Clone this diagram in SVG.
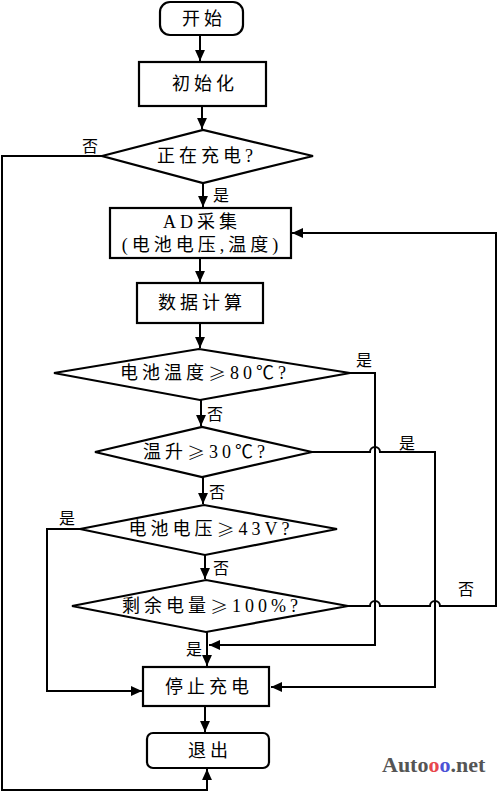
<svg xmlns="http://www.w3.org/2000/svg" width="500" height="792" viewBox="0 0 500 792">
<defs>
<marker id="ah" viewBox="0 0 10 10" refX="10" refY="5" markerWidth="11" markerHeight="11" markerUnits="userSpaceOnUse" orient="auto">
<path d="M0,0.5 L10,5 L0,9.5 Z" fill="#000"/>
</marker>
<style>
.n{fill:#fff;stroke:#000;stroke-width:2.2}
.c{fill:none;stroke:#000;stroke-width:2}
.t{font-family:"Liberation Serif","Noto Sans CJK SC",serif;font-size:18px;letter-spacing:4px;fill:#000;text-anchor:middle;dominant-baseline:central}
.g{font-family:"Noto Sans CJK SC",sans-serif;font-weight:300}
.l{font-family:"Noto Sans CJK SC",serif;font-size:16px;fill:#000;text-anchor:middle;dominant-baseline:central}
</style>
</defs>
<g id="connectors">
<path class="c" d="M200,35 V61" marker-end="url(#ah)"/>
<path class="c" d="M202,106 V129" marker-end="url(#ah)"/>
<path class="c" d="M203,183 V207" marker-end="url(#ah)"/>
<path class="c" d="M200,258 V282" marker-end="url(#ah)"/>
<path class="c" d="M200,323 V348" marker-end="url(#ah)"/>
<path class="c" d="M201,400 V426" marker-end="url(#ah)"/>
<path class="c" d="M203,477 V504" marker-end="url(#ah)"/>
<path class="c" d="M205,555 V579" marker-end="url(#ah)"/>
<path class="c" d="M207,632 V666" marker-end="url(#ah)"/>
<path class="c" d="M205,706 V732" marker-end="url(#ah)"/>
<path class="c" d="M102,156 H2 V790 H207 V769" marker-end="url(#ah)"/>
<path class="c" d="M350,373 H375 V645 H209" marker-end="url(#ah)"/>
<path class="c" d="M312,452 H370 A5,5 0 0 1 380,452 H435 V687 H271" marker-end="url(#ah)"/>
<path class="c" d="M80,529 H47 V691 H142" marker-end="url(#ah)"/>
<path class="c" d="M348,606 H370 A5,5 0 0 1 380,606 H430 A5,5 0 0 1 440,606 H496 V233 H292" marker-end="url(#ah)"/>
</g>
<g id="start"><rect class="n" x="160" y="2" width="83" height="33" rx="10"/><text class="t" x="204" y="19">开始</text></g>
<g id="init"><rect class="n" x="139" y="62" width="127" height="44"/><text class="t" x="205" y="84">初始化</text></g>
<g id="charging"><polygon class="n" points="102,156 203,130 313,156 203,183"/><text class="t" x="207" y="156" letter-spacing="3">正在充电?</text></g>
<g id="ad"><rect class="n" x="110" y="208" width="181" height="50"/><text class="t" x="202" y="222" letter-spacing="1">AD采集</text><text class="t" x="202" y="245" letter-spacing="2">(电池电压,温度)</text></g>
<g id="calc"><rect class="n" x="137" y="283" width="126" height="40"/><text class="t" x="202" y="303">数据计算</text></g>
<g id="temp"><polygon class="n" points="54,373 199,349 350,373 200,400"/><text class="t" x="205" y="373" letter-spacing="2">电池温度<tspan class="g">≥</tspan>80℃?</text></g>
<g id="rise"><polygon class="n" points="95,452 202,427 312,452 202,477"/><text class="t" x="206" y="452" letter-spacing="2">温升<tspan class="g">≥</tspan>30℃?</text></g>
<g id="volt"><polygon class="n" points="80,529 204,505 337,529 205,555"/><text class="t" x="211" y="529" letter-spacing="2">电池电压<tspan class="g">≥</tspan>43V?</text></g>
<g id="soc"><polygon class="n" points="72,606 206,580 348,606 206,632"/><text class="t" x="212" y="606" letter-spacing="2">剩余电量<tspan class="g">≥</tspan>100%?</text></g>
<g id="stop"><rect class="n" x="143" y="667" width="126" height="39"/><text class="t" x="209" y="687">停止充电</text></g>
<g id="exit"><rect class="n" x="147" y="733" width="122" height="35" rx="6"/><text class="t" x="210" y="751">退出</text></g>
<g id="labels">
<text class="l" x="90" y="145">否</text>
<text class="l" x="221" y="194">是</text>
<text class="l" x="364" y="359">是</text>
<text class="l" x="215" y="413">否</text>
<text class="l" x="407" y="442">是</text>
<text class="l" x="217" y="491">否</text>
<text class="l" x="67" y="517">是</text>
<text class="l" x="221" y="567">否</text>
<text class="l" x="466" y="588">否</text>
<text class="l" x="194" y="648">是</text>
</g>
<text x="382" y="772" font-family="Liberation Serif,serif" font-weight="bold" font-size="22" fill="#555">Auto<tspan fill="#e8474c">o</tspan><tspan fill="#4b52d6">o</tspan>.net</text>
</svg>
